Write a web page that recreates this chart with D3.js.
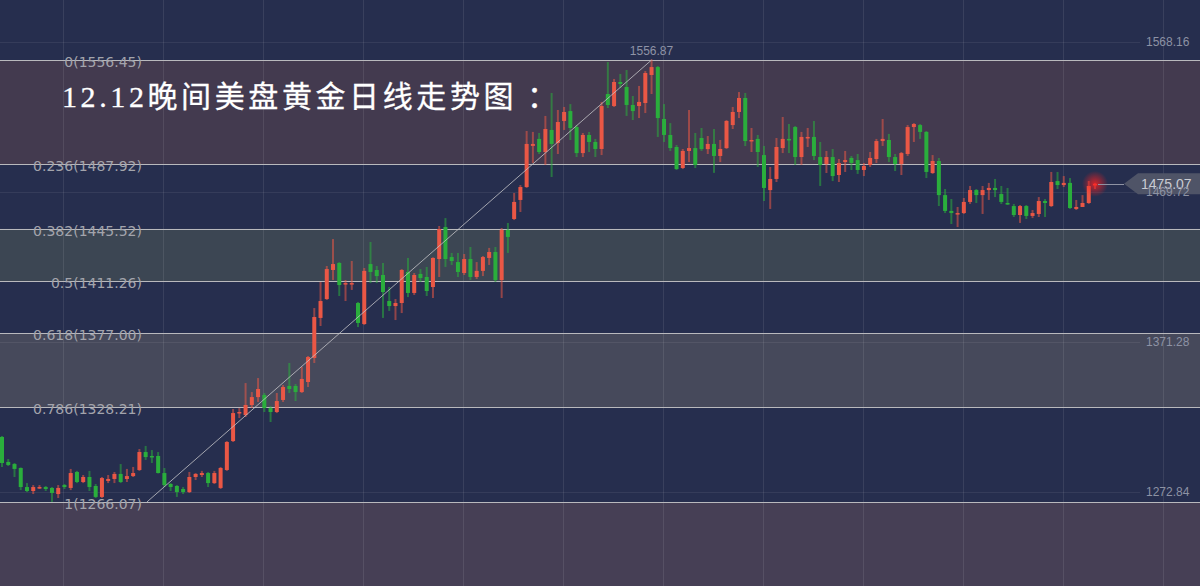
<!DOCTYPE html>
<html>
<head>
<meta charset="utf-8">
<script src="https://cdn.jsdelivr.net/npm/d3@7"></script>
<style>
html,body{margin:0;padding:0;background:#262e4e;overflow:hidden;}
svg{display:block;}
</style>
</head>
<body>
<svg id="chart" width="1200" height="586"></svg>
<script>
// ---- data (daily gold candles) ----
const opens  = [1308.8,1292.4,1291.0,1288.4,1275.9,1273.3,1275.3,1275.9,1275.3,1271.3,1277.2,1275.3,1285.8,1279.2,1282.5,1276.6,1269.4,1279.9,1281.2,1284.5,
1281.2,1283.1,1287.1,1298.9,1296.3,1296.3,1285.1,1277.9,1276.6,1274.6,1272.6,1282.5,1283.8,1285.1,1278.5,1275.3,1287.1,1306.1,1324.5,1323.2,
1329.8,1335.0,1336.4,1327.8,1325.2,1333.1,1342.3,1342.3,1338.3,1344.9,1360.7,1387.0,1399.4,1418.5,1423.1,1409.3,1409.3,1396.8,1383.0,1422.4,
1418.5,1415.2,1398.1,1394.8,1396.8,1417.2,1403.4,1415.9,1413.9,1407.3,1425.7,1446.7,1427.0,1423.7,1416.5,1425.7,1413.9,1417.9,1426.4,1430.3,
1411.9,1444.8,1452.0,1464.5,1473.0,1500.0,1504.6,1496.0,1510.5,1501.9,1516.4,1522.9,1512.4,1495.3,1507.2,1502.6,1498.0,1534.1,1526.2,1542.0,
1538.7,1526.9,1526.2,1528.2,1546.6,1551.8,1517.7,1507.2,1499.3,1485.5,1496.7,1498.6,1505.2,1497.9,1501.3,1493.4,1498.6,1513.7,1522.3,1531.5,
1503.2,1504.6,1494.0,1471.0,1478.3,1498.6,1504.6,1512.4,1492.7,1505.2,1505.9,1492.7,1488.1,1492.7,1480.9,1489.4,1492.1,1490.7,1484.2,1487.5,
1491.4,1503.2,1503.9,1492.7,1488.1,1494.7,1512.4,1513.7,1509.2,1482.2,1490.1,1467.7,1457.3,1455.3,1455.9,1463.2,1471.0,1467.7,1471.0,1472.4,
1468.4,1462.5,1460.5,1454.6,1460.5,1454.0,1455.3,1463.8,1460.5,1476.9,1474.3,1475.7,1458.6,1459.9,1462.5,1474.3];
const highs  = [1309.4,1294.3,1291.7,1288.8,1278.5,1277.2,1277.2,1276.6,1275.9,1277.2,1277.9,1287.8,1286.5,1283.8,1286.5,1277.9,1282.5,1283.8,1285.8,1291.0,
1287.8,1289.1,1300.9,1302.9,1300.2,1298.9,1288.4,1278.5,1277.2,1275.9,1285.8,1285.1,1286.5,1285.8,1286.5,1289.1,1306.1,1327.2,1327.8,1344.2,
1338.3,1347.5,1337.7,1329.1,1337.7,1342.9,1357.4,1343.6,1354.8,1362.0,1393.5,1410.6,1421.1,1438.8,1423.7,1411.9,1424.4,1397.5,1419.8,1436.9,
1421.1,1423.1,1407.3,1399.4,1419.1,1426.4,1416.5,1419.1,1420.5,1426.8,1447.4,1452.6,1429.7,1429.7,1429.0,1433.6,1423.7,1427.7,1433.0,1433.6,
1446.1,1449.4,1469.1,1474.3,1509.8,1509.2,1508.5,1519.7,1534.8,1523.6,1525.6,1527.5,1513.8,1508.5,1509.2,1504.6,1528.9,1555.1,1544.0,1547.3,
1549.9,1532.8,1539.4,1549.2,1556.87,1552.5,1527.5,1515.0,1500.6,1498.0,1523.6,1508.5,1511.8,1506.5,1511.1,1503.9,1517.0,1525.6,1535.4,1534.8,
1511.8,1507.2,1500.0,1486.2,1505.2,1519.0,1514.4,1513.1,1509.2,1511.8,1516.4,1502.6,1496.7,1498.0,1491.4,1496.7,1493.4,1494.7,1488.8,1496.0,
1504.6,1517.7,1507.9,1494.7,1496.0,1513.7,1515.0,1514.4,1509.8,1494.0,1492.1,1471.7,1465.1,1459.9,1465.8,1473.7,1471.7,1473.7,1475.7,1478.3,
1473.7,1472.4,1461.9,1461.2,1461.2,1457.9,1466.4,1465.1,1482.9,1482.9,1480.2,1478.9,1464.5,1467.7,1477.0,1475.7];
const lows   = [1289.1,1289.7,1282.5,1273.9,1272.6,1271.3,1274.6,1273.3,1266.1,1268.7,1274.6,1273.9,1278.5,1278.5,1273.3,1268.7,1268.7,1278.5,1278.5,1278.5,
1279.2,1282.5,1286.5,1293.7,1291.7,1284.8,1275.9,1273.3,1269.4,1271.3,1272.0,1280.5,1282.5,1275.9,1277.9,1274.6,1286.5,1305.5,1321.2,1321.9,
1327.8,1331.8,1325.2,1318.6,1324.5,1331.8,1337.7,1332.4,1337.7,1341.6,1357.4,1381.7,1398.8,1411.9,1401.4,1398.1,1405.4,1381.0,1382.4,1409.9,
1409.9,1387.0,1391.6,1385.6,1390.2,1400.7,1402.1,1410.6,1401.4,1400.1,1413.9,1420.5,1421.8,1413.9,1415.2,1411.9,1412.6,1414.5,1421.8,1410.6,
1400.1,1429.7,1451.3,1456.6,1472.4,1488.8,1494.7,1487.5,1479.6,1494.7,1510.5,1503.9,1492.7,1492.7,1496.0,1492.7,1494.0,1524.9,1525.6,1538.1,
1519.7,1517.0,1518.3,1521.6,1534.1,1505.9,1502.6,1496.7,1484.2,1484.8,1489.4,1485.5,1496.7,1494.7,1482.3,1489.4,1498.0,1511.1,1518.3,1499.9,
1496.0,1486.2,1463.8,1458.6,1476.3,1495.3,1495.3,1487.5,1487.5,1499.3,1490.7,1473.7,1482.2,1476.9,1476.3,1482.9,1484.2,1481.6,1480.2,1486.2,
1488.8,1500.0,1489.4,1483.5,1480.9,1493.4,1502.6,1504.6,1478.9,1481.6,1460.5,1455.9,1448.7,1446.7,1455.3,1461.9,1462.5,1455.3,1464.5,1466.4,
1461.9,1461.2,1453.3,1449.4,1452.0,1452.6,1453.3,1453.3,1459.9,1471.7,1473.0,1458.6,1457.9,1459.9,1461.9,1471.7];
const closes = [1291.7,1290.4,1287.8,1275.9,1273.3,1275.9,1275.9,1274.6,1272.0,1275.3,1275.9,1285.1,1279.2,1282.5,1275.9,1269.4,1281.8,1281.2,1284.5,1279.2,
1283.1,1285.1,1298.9,1295.6,1295.6,1285.1,1277.2,1275.9,1272.6,1272.6,1282.5,1284.5,1285.1,1278.5,1285.1,1288.4,1305.5,1324.5,1325.2,1329.8,
1335.0,1340.3,1327.8,1325.2,1332.4,1341.6,1340.3,1338.3,1346.9,1361.3,1387.6,1398.1,1419.1,1422.4,1408.6,1409.9,1409.9,1383.7,1417.9,1417.2,
1414.5,1404.0,1394.8,1396.8,1418.5,1403.4,1415.2,1413.2,1404.7,1426.4,1445.4,1425.7,1424.4,1417.2,1425.7,1413.9,1417.9,1427.0,1430.3,1411.9,
1444.8,1440.2,1463.2,1473.0,1501.3,1501.3,1496.0,1511.1,1501.3,1515.7,1522.3,1511.8,1495.3,1507.2,1502.6,1498.0,1526.2,1526.9,1542.0,1540.7,
1526.9,1522.9,1528.9,1547.9,1551.8,1518.3,1507.2,1498.6,1484.8,1496.7,1498.6,1487.5,1497.9,1501.3,1493.4,1498.0,1516.4,1522.3,1531.5,1503.2,
1503.9,1496.0,1472.4,1478.3,1499.3,1504.6,1503.9,1492.7,1505.9,1505.9,1493.4,1487.5,1492.7,1480.2,1488.8,1490.7,1488.8,1484.2,1486.8,1492.1,
1503.2,1504.6,1492.7,1488.1,1495.3,1512.4,1514.4,1509.2,1482.9,1490.1,1467.7,1457.3,1455.9,1455.9,1463.2,1471.0,1467.7,1471.0,1472.4,1471.0,
1463.2,1461.9,1454.6,1460.5,1454.0,1455.9,1463.8,1462.5,1476.3,1474.3,1475.7,1459.2,1459.9,1462.5,1473.7,1475.07];

const fibRatios = ["0","0.236","0.382","0.5","0.618","0.786","1"];
const fibValues = [1556.45,1487.92,1445.52,1411.26,1377.00,1328.21,1266.07];
const axisTicks = [1568.16,1469.72,1371.28,1272.84];
const swingHigh = 1556.87;
const lastPrice = 1475.07;
const trendFrom = {i: 23.2, v: 1266.07};
const trendTo   = {i: 104,  v: 1556.45};
const titleMain = "12.12晚间美盘黄金日线走势图";
const titleColon = "：";

// ---- drawing ----
const W = 1200, H = 586;
const svg = d3.select("#chart");
const x = d3.scaleLinear().domain([0, opens.length - 1]).range([2, 1095]);
const y = d3.scaleLinear().domain([1266.07, 1556.45]).range([502, 60]);

svg.append("rect").attr("width", W).attr("height", H).attr("fill", "#262e4e");

// fib bands
const bandFill = ["#433a4f", null, "#3c4653", null, "#46495b", null];
fibValues.slice(0, -1).forEach((v, k) => {
  if (!bandFill[k]) return;
  svg.append("rect").attr("x", 0).attr("width", W)
    .attr("y", y(v)).attr("height", y(fibValues[k + 1]) - y(v))
    .attr("fill", bandFill[k]);
});
svg.append("rect").attr("x", 0).attr("width", W)
  .attr("y", y(fibValues[6])).attr("height", H - y(fibValues[6]))
  .attr("fill", "#463f55");

// grid
const gridG = svg.append("g");
d3.range(9.77, opens.length + 10, 16.01).forEach(i => {
  gridG.append("line").attr("x1", Math.round(x(i)) + 0.5).attr("x2", Math.round(x(i)) + 0.5)
    .attr("y1", 0).attr("y2", H).attr("stroke", "rgba(255,255,255,0.09)");
});
axisTicks.forEach(v => {
  gridG.append("line").attr("x1", 0).attr("x2", 1140)
    .attr("y1", Math.round(y(v)) + 0.5).attr("y2", Math.round(y(v)) + 0.5)
    .attr("stroke", "rgba(255,255,255,0.07)");
});

// fib lines
fibValues.forEach(v => {
  svg.append("line").attr("x1", 0).attr("x2", W)
    .attr("y1", Math.round(y(v)) + 0.5).attr("y2", Math.round(y(v)) + 0.5)
    .attr("stroke", "#b9b9bd").attr("stroke-width", 1);
});

// candles
const up = "#ea5745", dn = "#2aae3c";
const cg = svg.append("g");
opens.forEach((o, i) => {
  const c = closes[i], isUp = c >= o, col = isUp ? up : dn;
  const cx = x(i);
  cg.append("line").attr("x1", cx).attr("x2", cx)
    .attr("y1", y(highs[i])).attr("y2", y(lows[i]))
    .attr("stroke", col).attr("stroke-opacity", 0.55).attr("stroke-width", 2);
  const top = y(Math.max(o, c)), bot = y(Math.min(o, c));
  cg.append("rect").attr("x", cx - 2).attr("width", 4)
    .attr("y", top).attr("height", Math.max(1.5, bot - top))
    .attr("fill", col);
});

// trend line
svg.append("line")
  .attr("x1", x(trendFrom.i)).attr("y1", y(trendFrom.v))
  .attr("x2", x(trendTo.i)).attr("y2", y(trendTo.v))
  .attr("stroke", "#c4c4c8").attr("stroke-opacity", 0.8).attr("stroke-width", 1);

svg.append("text").attr("x", x(trendTo.i)).attr("y", y(swingHigh) - 4)
  .attr("text-anchor", "middle").attr("font-family", "Liberation Sans, Arial, sans-serif")
  .attr("font-size", 12).attr("fill", "#8e93a6").text(swingHigh.toFixed(2));

// fib labels
fibValues.forEach((v, k) => {
  svg.append("text").attr("x", 142).attr("y", Math.round(y(v)) + 7)
    .attr("text-anchor", "end").attr("font-family", "DejaVu Sans, sans-serif")
    .attr("font-size", 14).attr("fill", "#a3a4ac")
    .text(fibRatios[k] + "(" + v.toFixed(2) + ")");
});

// last price glow + tag
const defs = svg.append("defs");
const rg = defs.append("radialGradient").attr("id", "glow");
rg.append("stop").attr("offset", "0%").attr("stop-color", "#ff2020").attr("stop-opacity", 0.8);
rg.append("stop").attr("offset", "100%").attr("stop-color", "#ff2020").attr("stop-opacity", 0);
const lx = x(opens.length - 1), ly = y(lastPrice);
svg.append("circle").attr("cx", lx).attr("cy", ly).attr("r", 13).attr("fill", "url(#glow)");
svg.append("line").attr("x1", lx + 3).attr("x2", 1124).attr("y1", Math.round(ly) + 0.5).attr("y2", Math.round(ly) + 0.5)
  .attr("stroke", "#8f93a3").attr("stroke-width", 1);
svg.append("path")
  .attr("d", `M1124,${ly} L1138,${ly - 10.5} L1200,${ly - 10.5} L1200,${ly + 10.5} L1138,${ly + 10.5} Z`)
  .attr("fill", "#4f5467");
svg.append("text").attr("x", 1141).attr("y", ly + 5)
  .attr("font-family", "Liberation Sans, Arial, sans-serif").attr("font-size", 14)
  .attr("fill", "#c9cbd3").text(lastPrice.toFixed(2));

// right axis labels
axisTicks.forEach(v => {
  svg.append("text").attr("x", 1146).attr("y", y(v) + 4)
    .attr("font-family", "Liberation Sans, Arial, sans-serif").attr("font-size", 12)
    .attr("fill", "#8d92a4").text(v.toFixed(2));
});

// title
const tt = svg.append("text").attr("x", 62).attr("y", 107)
  .attr("font-family", "Liberation Serif, Noto Sans CJK SC, serif")
  .attr("font-size", 30).attr("letter-spacing", 3.6)
  .attr("stroke", "#ffffff").attr("stroke-width", 0.3)
  .attr("fill", "#ffffff");
tt.append("tspan").text(titleMain);
tt.append("tspan").attr("dx", 10).text(titleColon);
</script>
</body>
</html>
